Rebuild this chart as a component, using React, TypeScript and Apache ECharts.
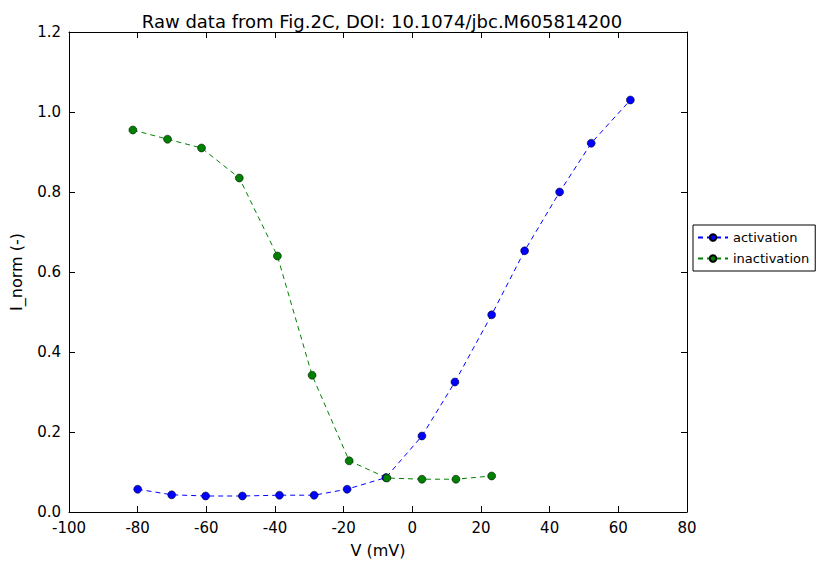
import React, { useEffect, useRef } from "react";
import * as echarts from "echarts";

const actV = [-80, -70.1, -60.2, -49.5, -38.7, -28.6, -19, -7.7, 2.8, 12.4, 23.1, 32.7, 42.9, 52.1, 63.5];
const actI = [0.057, 0.043, 0.04, 0.04, 0.042, 0.042, 0.057, 0.086, 0.19, 0.325, 0.493, 0.653, 0.8, 0.922, 1.03];
const inaV = [-81.4, -71.3, -61.4, -50.4, -39.3, -29.2, -18.4, -7.4, 2.8, 12.7, 23.1];
const inaI = [0.955, 0.932, 0.91, 0.835, 0.64, 0.342, 0.128, 0.085, 0.082, 0.082, 0.09];

export default function App() {
  const ref = useRef<HTMLDivElement>(null);
  useEffect(() => {
    const chart = echarts.init(ref.current!, null, { renderer: "svg" });
    const font = "DejaVu Sans";
    const axisCommon = {
      axisLine: { show: true, onZero: false, lineStyle: { color: "#000", width: 1 } },
      axisTick: { show: true, inside: true, length: 6, lineStyle: { color: "#000" } },
      splitLine: { show: false },
    };
    const mk = (name: string, xs: number[], ys: number[], color: string) => ({
      name,
      type: "line",
      data: xs.map((x, i) => [x, ys[i]]),
      symbol: "circle",
      symbolSize: 8,
      itemStyle: { color, borderColor: "#000", borderWidth: 0.5 },
      lineStyle: { color, type: [5, 4], width: 1 },
    });
    chart.setOption({
      animation: false,
      textStyle: { fontFamily: font },
      title: {
        text: "Raw data from Fig.2C, DOI: 10.1074/jbc.M605814200",
        left: 377, top: 7, textAlign: "center",
        textStyle: { fontSize: 18, fontWeight: "normal", color: "#000", fontFamily: font },
      },
      grid: { left: 67, right: 140, top: 32, bottom: 58 },
      legend: {
        orient: "vertical", left: 693, top: 225, width: 124,
        borderColor: "#000", borderWidth: 1, borderRadius: 0, padding: [6, 6, 6, 4],
        itemGap: 8, itemWidth: 30, itemHeight: 8,
        textStyle: { fontSize: 13, color: "#000", fontFamily: font },
        data: ["activation", "inactivation"],
      },
      xAxis: [
        { type: "value", min: -100, max: 80, interval: 20, name: "V (mV)", nameLocation: "middle", nameGap: 30,
          nameTextStyle: { fontSize: 16, color: "#000" },
          axisLabel: { fontSize: 15, color: "#000", margin: 8 }, ...axisCommon },
        { type: "value", position: "top", min: -100, max: 80, interval: 20, axisLabel: { show: false }, ...axisCommon },
      ],
      yAxis: [
        { type: "value", min: 0, max: 1.2, interval: 0.2, name: "I_norm (-)", nameLocation: "middle", nameGap: 45,
          nameTextStyle: { fontSize: 16, color: "#000" },
          axisLabel: { fontSize: 15, color: "#000", margin: 8, formatter: (v: number) => v.toFixed(1) }, ...axisCommon },
        { type: "value", position: "right", min: 0, max: 1.2, interval: 0.2, axisLabel: { show: false }, ...axisCommon },
      ],
      series: [mk("activation", actV, actI, "#0000ff"), mk("inactivation", inaV, inaI, "#008000")],
    });
    return () => chart.dispose();
  }, []);
  return <div ref={ref} style={{ width: 827, height: 570, position: "absolute", left: 0, top: 0 }} />;
}
